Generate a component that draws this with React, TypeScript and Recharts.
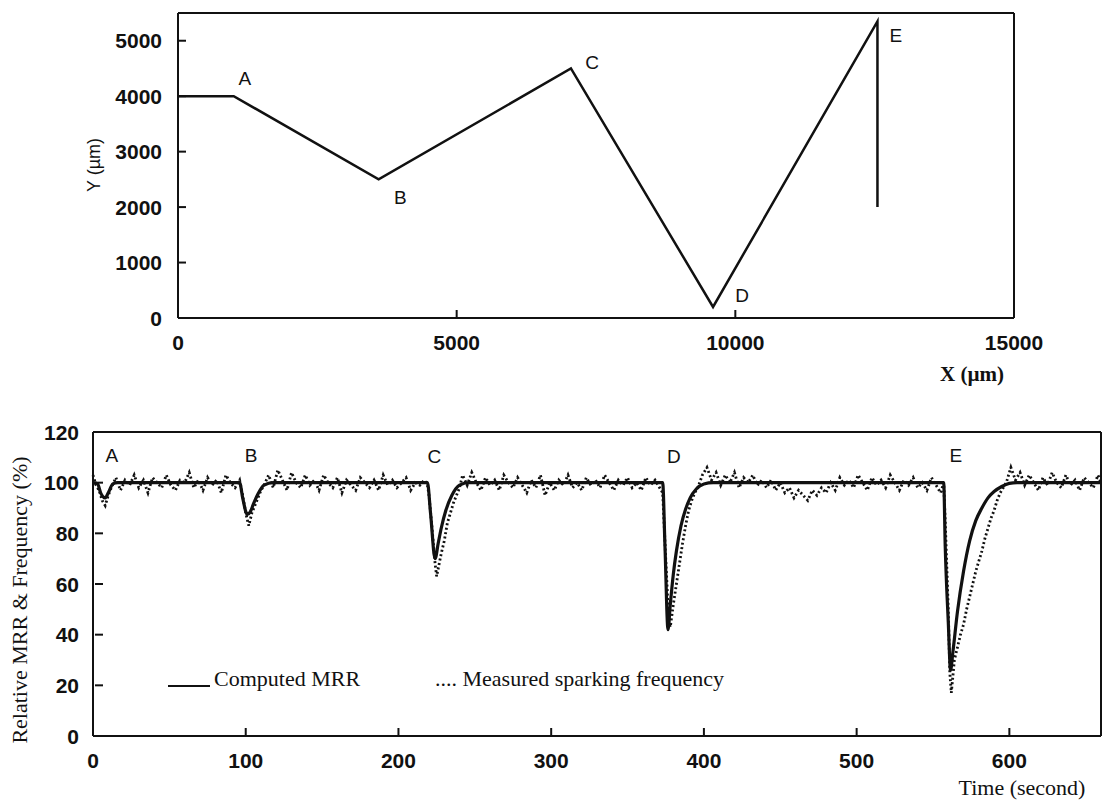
import React from 'react';
import {
  LineChart,
  Line,
  XAxis,
  YAxis,
  ReferenceDot,
} from 'recharts';

// top panel: tool path in the X-Y plane
const pathX = [0, 1000, 3600, 7050, 9600, 12550, 12550];
const pathY = [4000, 4000, 2500, 4500, 200, 5350, 2000];
const pathXTicks = [0, 5000, 10000, 15000];
const pathYTicks = [0, 1000, 2000, 3000, 4000, 5000];
const pathPointNames = ['A', 'B', 'C', 'D', 'E'];
const pathPointX = [1200, 3990, 7430, 10120, 12880];
const pathPointY = [4325, 2185, 4620, 415, 5100];

// bottom panel: computed MRR vs measured sparking frequency
const mrrTime = [0, 3, 5, 8, 10, 13, 16, 96, 98, 101, 103, 105, 108, 112, 118, 219, 221, 224, 226, 228, 231, 235, 240, 246, 373, 374.5, 376.5, 378, 380, 382, 385, 388, 391, 395, 400, 406, 557, 558, 560, 561.5, 563, 566, 570, 574, 578, 582, 586, 590, 595, 600, 605, 660];
const mrrValue = [100, 99.5, 96, 94, 96, 99.5, 100, 100, 94, 87.5, 88.5, 91.5, 95.5, 99, 100, 100, 88, 70, 76, 82, 89, 95, 99, 100, 100, 75, 42, 52, 64, 73, 83, 89.5, 94, 97.5, 99.5, 100, 100, 75, 45, 26, 33, 49, 65, 77, 85, 90, 94, 96.5, 98.5, 99.7, 100, 100];

const freqTime = [
  0, 2, 4, 6, 8, 10, 12, 15, 18, 21, 24, 27, 30, 33, 36, 39, 42, 45, 48, 51, 54, 57, 60, 63, 66, 69, 72, 75, 78, 81, 84, 87, 90, 93, 96,
  98, 100, 102, 104, 106, 108, 110, 112,
  115, 118, 121, 124, 127, 130, 133, 136, 139, 142, 145, 148, 151, 154, 157, 160, 163, 166, 169, 172, 175, 178, 181, 184, 187, 190, 193, 196, 199, 202, 205, 208, 211, 214, 217, 219,
  220, 222, 224, 225, 226, 228, 230, 232, 234, 236, 238, 240,
  242, 245, 248, 251, 254, 257, 260, 263, 266, 269, 272, 275, 278, 281, 284, 287, 290, 293, 296, 299, 302, 305, 308, 311, 314, 317, 320, 323, 326, 329, 332, 335, 338, 341, 344, 347, 350, 353, 356, 359, 362, 365, 368, 371,
  373, 375, 377, 378, 380, 382, 384, 386, 388, 390, 392, 394, 396,
  399, 402, 405, 408, 411, 414, 417, 420, 423, 426, 429, 432, 435, 438, 441, 444, 447, 450, 453, 456, 459, 462, 465, 468, 471, 474, 477, 480, 483, 486, 489, 492, 495, 498, 501, 504, 507, 510, 513, 516, 519, 522, 525, 528, 531, 534, 537, 540, 543, 546, 549, 552, 555, 557,
  558, 560, 561, 562, 564, 566, 568, 570, 572, 574, 576, 578, 580, 582, 584, 586, 588, 590, 592, 594, 596, 598,
  601, 604, 607, 610, 613, 616, 619, 622, 625, 628, 631, 634, 637, 640, 643, 646, 649, 652, 655, 658, 660,
];
const freqValue = [
  103, 99, 97, 93, 91, 95, 98, 102, 97, 101, 99, 103, 98, 101, 96, 102, 100, 98, 103, 99, 97, 101, 100, 104, 98, 101, 97, 102, 99, 101, 96, 103, 100, 98, 101,
  95, 88, 83, 88, 91, 94, 97, 99,
  103, 98, 105, 101, 97, 104, 100, 98, 103, 99, 101, 97, 103, 100, 98, 102, 96, 101, 99, 97, 102, 100, 98, 101, 97, 103, 99, 101, 98, 100, 102, 97, 100, 99, 101, 99,
  95, 82, 68, 63, 66, 72, 77, 84, 88, 92, 95, 98,
  103, 99, 104, 100, 97, 102, 99, 101, 97, 103, 100, 98, 102, 99, 96, 101, 98, 103, 95, 100, 97, 101, 99, 103, 98, 100, 97, 102, 99, 101, 98, 103, 100, 97, 101, 99, 102, 98, 100, 97, 102, 99, 101, 98,
  96, 70, 45, 43, 52, 60, 68, 76, 83, 89, 93, 96, 98,
  103, 106, 101, 104, 99, 103, 100, 104, 98, 102, 100, 103, 99, 101, 98, 101, 97, 100, 96, 98, 94, 97, 95, 93, 97, 95, 98, 96, 100, 97, 102, 99, 101, 98, 103, 100, 97, 102, 99, 101, 98, 103, 100, 97, 101, 99, 102, 98, 100, 97, 102, 99, 96, 100,
  85, 50, 25, 17, 30, 35, 40, 44, 50, 55, 60, 65, 69, 73, 78, 82, 86, 89, 93, 96, 98, 100,
  106, 101, 104, 99, 103, 100, 97, 102, 99, 104, 100, 98, 103, 99, 101, 97, 102, 100, 98, 103, 100,
];
const timeTicks = [0, 100, 200, 300, 400, 500, 600];
const rateTicks = [0, 20, 40, 60, 80, 100, 120];
const dipNames = ['A', 'B', 'C', 'D', 'E'];
const dipTime = [12.3, 103.5, 223.5, 380.3, 565];
const dipLabelValue = [110.9, 111, 110.3, 110.3, 111];

const pathData = pathX.map((x, i) => ({ x, y: pathY[i] }));
const mrrData = mrrTime.map((t, i) => ({ t, v: mrrValue[i] }));
const freqData = freqTime.map((t, i) => ({ t, v: freqValue[i] }));

const SANS = '"Liberation Sans", Arial, sans-serif';
const SERIF = '"Liberation Serif", "Times New Roman", serif';
const INK = '#111';
const axisLine = { stroke: INK, strokeWidth: 2 };
const TICK_LEN = 8;
const GAP = 16;

// inward tick marks drawn together with their labels
const LeftTick = (props: any) => {
  const { x, y, payload } = props;
  const ax = x + GAP;
  return (
    <g>
      <line x1={ax} y1={y} x2={ax + TICK_LEN} y2={y} stroke={INK} strokeWidth={2} />
      <text x={x} y={y} dy="0.36em" textAnchor="end" fontFamily={SANS} fontSize={21} fontWeight={700} fill={INK}>
        {payload.value}
      </text>
    </g>
  );
};
const BottomTick = (props: any) => {
  const { x, y, payload } = props;
  const ay = y - GAP;
  return (
    <g>
      <line x1={x} y1={ay} x2={x} y2={ay - TICK_LEN} stroke={INK} strokeWidth={2} />
      <text x={x} y={y} dy="0.75em" textAnchor="middle" fontFamily={SANS} fontSize={21} fontWeight={700} fill={INK}>
        {payload.value}
      </text>
    </g>
  );
};
const RightTick = (props: any) => (
  <line x1={props.x} y1={props.y} x2={props.x - TICK_LEN} y2={props.y} stroke={INK} strokeWidth={2} />
);
const TopTick = (props: any) => (
  <line x1={props.x} y1={props.y} x2={props.x} y2={props.y + TICK_LEN} stroke={INK} strokeWidth={2} />
);

const letterLabel = (value: string) => ({
  value,
  position: 'center' as const,
  style: { fontFamily: SANS, fontSize: 19, fill: INK },
});

export default function App() {
  return (
    <div style={{ position: 'absolute', left: 0, top: 0, width: 1104, height: 801, background: '#fff', overflow: 'hidden' }}>
      {/* top panel: plot area 178..1014 x 13..318 */}
      <div style={{ position: 'absolute', left: 0, top: 0 }}>
        <LineChart width={1104} height={400} data={pathData} margin={{ top: 3, right: 80, bottom: 42, left: 98 }}>
          <XAxis dataKey="x" type="number" domain={[0, 15000]} ticks={pathXTicks} height={40}
            axisLine={axisLine} tickLine={false} tickSize={0} tickMargin={GAP} tick={<BottomTick />} interval={0} />
          <XAxis xAxisId="top" orientation="top" type="number" domain={[0, 15000]} ticks={[5000, 10000]} height={10}
            axisLine={axisLine} tickLine={false} tickSize={0} tickMargin={0} tick={<TopTick />} interval={0} />
          <YAxis type="number" domain={[0, 5500]} ticks={pathYTicks} width={80}
            axisLine={axisLine} tickLine={false} tickSize={0} tickMargin={GAP} tick={<LeftTick />} interval={0} />
          <YAxis yAxisId="right" orientation="right" type="number" domain={[0, 5500]} ticks={[1000, 2000, 3000, 4000, 5000]} width={10}
            axisLine={axisLine} tickLine={false} tickSize={0} tickMargin={0} tick={<RightTick />} interval={0} />
          <Line type="linear" dataKey="y" stroke={INK} strokeWidth={2.5} dot={false} isAnimationActive={false} />
          {pathPointNames.map((n, i) => (
            <ReferenceDot key={n} x={pathPointX[i]} y={pathPointY[i]} r={0} fill="none" stroke="none" label={letterLabel(n)} />
          ))}
        </LineChart>
      </div>
      <div style={{ position: 'absolute', left: 94, top: 165, transform: 'translate(-50%, -50%) rotate(-90deg)', fontFamily: SANS, fontSize: 18, color: INK, whiteSpace: 'nowrap' }}>
        Y (µm)
      </div>
      <div style={{ position: 'absolute', left: 972, top: 374, transform: 'translate(-50%, -50%)', fontFamily: SERIF, fontSize: 21, fontWeight: 700, color: INK, whiteSpace: 'nowrap' }}>
        X (µm)
      </div>

      {/* bottom panel: plot area 93..1101 x 432..736 */}
      <div style={{ position: 'absolute', left: 0, top: 400 }}>
        <LineChart width={1104} height={401} margin={{ top: 22, right: 0, bottom: 25, left: 13 }}>
          <XAxis dataKey="t" type="number" domain={[0, 660]} ticks={timeTicks} height={40} allowDuplicatedCategory={false}
            axisLine={axisLine} tickLine={false} tickSize={0} tickMargin={GAP} tick={<BottomTick />} interval={0} />
          <XAxis xAxisId="top" orientation="top" type="number" domain={[0, 660]} ticks={[100, 200, 300, 400, 500, 600]} height={10}
            axisLine={axisLine} tickLine={false} tickSize={0} tickMargin={0} tick={<TopTick />} interval={0} />
          <YAxis type="number" domain={[0, 120]} ticks={rateTicks} width={80}
            axisLine={axisLine} tickLine={false} tickSize={0} tickMargin={GAP - 2} tick={<LeftTick />} interval={0} />
          <YAxis yAxisId="right" orientation="right" type="number" domain={[0, 120]} ticks={[20, 40, 60, 80, 100]} width={3}
            axisLine={axisLine} tickLine={false} tickSize={0} tickMargin={0} tick={<RightTick />} interval={0} />
          <Line data={freqData} type="linear" dataKey="v" name="Measured sparking frequency" stroke={INK} strokeWidth={2.8}
            strokeDasharray="2 2.5" dot={false} isAnimationActive={false} />
          <Line data={mrrData} type="monotone" dataKey="v" name="Computed MRR" stroke={INK} strokeWidth={3.2}
            dot={false} isAnimationActive={false} />
          {dipNames.map((n, i) => (
            <ReferenceDot key={n} x={dipTime[i]} y={dipLabelValue[i]} r={0} fill="none" stroke="none" label={letterLabel(n)} />
          ))}
        </LineChart>
      </div>
      <div style={{ position: 'absolute', left: 20, top: 600, transform: 'translate(-50%, -50%) rotate(-90deg)', fontFamily: SERIF, fontSize: 22, color: INK, whiteSpace: 'nowrap' }}>
        Relative MRR &amp; Frequency (%)
      </div>
      <div style={{ position: 'absolute', left: 1022, top: 788, transform: 'translate(-50%, -50%)', fontFamily: SERIF, fontSize: 22, color: INK, whiteSpace: 'nowrap' }}>
        Time (second)
      </div>
      {/* legend */}
      <div style={{ position: 'absolute', left: 168, top: 685, width: 42, height: 2, background: INK }} />
      <div style={{ position: 'absolute', left: 214, top: 679, transform: 'translateY(-50%)', fontFamily: SERIF, fontSize: 22, color: INK, whiteSpace: 'nowrap' }}>
        Computed MRR
      </div>
      <div style={{ position: 'absolute', left: 435, top: 679, transform: 'translateY(-50%)', fontFamily: SERIF, fontSize: 22, color: INK, whiteSpace: 'nowrap' }}>
        .... Measured sparking frequency
      </div>
    </div>
  );
}
